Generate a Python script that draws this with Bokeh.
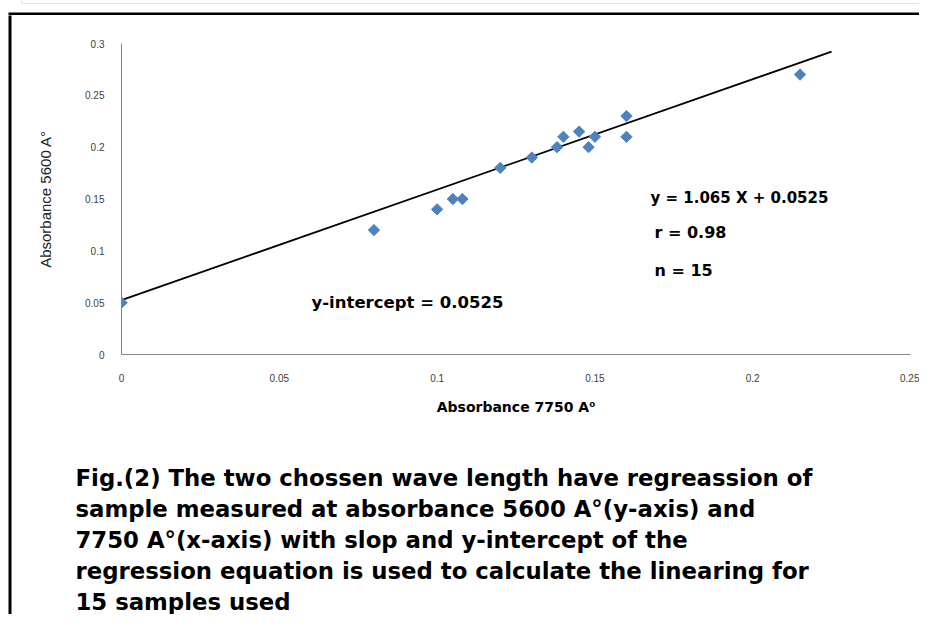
from bokeh.plotting import figure
from bokeh.layouts import column, row
from bokeh.models import Label, BoxAnnotation, Range1d, FixedTicker
from bokeh.embed import file_html
from bokeh.resources import INLINE

# ---- data ----
abs_7750 = [0.0, 0.08, 0.10, 0.105, 0.108, 0.12, 0.13, 0.138, 0.14, 0.145, 0.148, 0.15, 0.16, 0.16, 0.215]
abs_5600 = [0.05, 0.12, 0.14, 0.15, 0.15, 0.18, 0.19, 0.20, 0.21, 0.215, 0.20, 0.21, 0.23, 0.21, 0.27]
slope = 1.065
intercept = 0.0525
fit_x = [0.0, 0.225]
x_ticks = [0, 0.05, 0.1, 0.15, 0.2, 0.25]
x_tick_labels = ["0", "0.05", "0.1", "0.15", "0.2", "0.25"]
y_ticks = [0, 0.05, 0.1, 0.15, 0.2, 0.25, 0.3]
y_tick_labels = ["0", "0.05", "0.1", "0.15", "0.2", "0.25", "0.3"]
equation_text = "y = 1.065 X + 0.0525"
r_text = "r = 0.98"
n_text = "n = 15"
intercept_text = "y-intercept = 0.0525"
x_title = "Absorbance 7750 A\u2070"
y_title = "Absorbance 5600 A\u00b0"
caption_lines = [
    "Fig.(2) The two chossen wave length have regreassion of",
    "sample measured at absorbance 5600 A\u00b0(y-axis) and",
    "7750 A\u00b0(x-axis) with  slop and y-intercept of the",
    "regression equation is used to calculate the linearing for",
    "15 samples used",
]

# ---- page layout (pixels) ----
W, H = 919, 614
TOP_H = 15          # top strip height
LEFT_W = 12         # left strip width
CHART_H = 415       # chart figure height
CAP_H = H - TOP_H - CHART_H
FL, FR, FT, FB = 121, 910, 43, 354  # plot frame in page coords
XMIN, XMAX, YMIN, YMAX = 0.0, 0.25, 0.0, 0.3


def px(page_x):
    return XMIN + (page_x - FL) / (FR - FL) * (XMAX - XMIN)


def py(page_y):
    return YMIN + (FB - page_y) / (FB - FT) * (YMAX - YMIN)


def blank(width, height, x0, x1, y0, y1):
    f = figure(width=width, height=height, output_backend="svg", toolbar_location=None,
               x_range=Range1d(x0, x1), y_range=Range1d(y1, y0),
               x_axis_location=None, y_axis_location=None,
               min_border=0, min_border_left=0, min_border_right=0,
               min_border_top=0, min_border_bottom=0)
    f.outline_line_color = None
    f.xgrid.visible = False
    f.ygrid.visible = False
    f.background_fill_color = "white"
    f.border_fill_color = "white"
    return f


# top strip with page frame lines
top = blank(W, TOP_H, 0, W, 0, TOP_H)
top.add_layout(BoxAnnotation(left=21, right=924, top=-3, bottom=3, fill_color=None,
                             line_color="#a6a6a6", line_width=1))
top.add_layout(BoxAnnotation(left=8, right=W + 5, top=12, bottom=14.5,
                             fill_color="black", fill_alpha=1, line_color=None))
# left strip
left = blank(LEFT_W, H - TOP_H, 0, LEFT_W, TOP_H, H)
left.add_layout(BoxAnnotation(left=8, right=11, top=TOP_H - 2, bottom=H + 5,
                              fill_color="black", fill_alpha=1, line_color=None))

# ---- chart ----
CW = W - LEFT_W
p = figure(width=CW, height=CHART_H, output_backend="svg", toolbar_location=None,
           x_range=Range1d(XMIN, XMAX), y_range=Range1d(YMIN, YMAX),
           min_border_left=FL - LEFT_W, min_border_right=CW - (FR - LEFT_W),
           min_border_top=FT - TOP_H, min_border_bottom=CHART_H - (FB - TOP_H))
p.outline_line_color = None
p.xgrid.visible = False
p.ygrid.visible = False
p.background_fill_color = "white"
p.border_fill_color = "white"

for ax in (p.xaxis[0], p.yaxis[0]):
    ax.axis_line_color = "#868686"
    ax.axis_line_width = 1
    ax.major_tick_line_color = None
    ax.minor_tick_line_color = None
    ax.major_tick_out = 0
    ax.major_tick_in = 0
    ax.minor_tick_out = 0
    ax.minor_tick_in = 0
    ax.major_label_text_font = "Liberation Sans"
    ax.major_label_text_font_size = "10px"
    ax.major_label_text_color = "#404040"

p.xaxis.ticker = FixedTicker(ticks=x_ticks)
p.yaxis.ticker = FixedTicker(ticks=y_ticks)
p.xaxis.major_label_overrides = dict(zip(x_ticks, x_tick_labels))
p.yaxis.major_label_overrides = dict(zip(y_ticks, y_tick_labels))
p.xaxis.major_label_standoff = 19
p.yaxis.major_label_standoff = 17

p.xaxis.axis_label = x_title
p.xaxis.axis_label_text_font = "DejaVu Sans"
p.xaxis.axis_label_text_font_style = "bold"
p.xaxis.axis_label_text_font_size = "14px"
p.xaxis.axis_label_text_color = "black"
p.xaxis.axis_label_standoff = 14

p.yaxis.axis_label = y_title
p.yaxis.axis_label_text_font = "Liberation Sans"
p.yaxis.axis_label_text_font_style = "normal"
p.yaxis.axis_label_text_font_size = "15px"
p.yaxis.axis_label_text_color = "#222222"
p.yaxis.axis_label_standoff = 28

# regression line
fit_y = [intercept + slope * x for x in fit_x]
p.line(fit_x, fit_y, line_color="black", line_width=1.8)

# data points (diamonds)
p.scatter(abs_7750, abs_5600, marker="square", angle=0.785398, size=8,
          fill_color="#4F81BD", line_color="#4F81BD")


def chart_text(txt, page_x, page_y, size):
    p.add_layout(Label(x=px(page_x), y=py(page_y), text=txt,
                       text_font="DejaVu Sans", text_font_size=size,
                       text_font_style="bold", text_color="black",
                       text_baseline="alphabetic", text_align="left"))


chart_text(equation_text, 650, 197, "15px")
chart_text(r_text, 654, 232, "16px")
chart_text(n_text, 654, 270, "16px")
chart_text(intercept_text, 311, 302, "16.5px")

# ---- caption ----
cap = blank(CW, CAP_H, LEFT_W, W, TOP_H + CHART_H, H)
baselines = [477, 508, 539, 570, 601]
for line, b in zip(caption_lines, baselines):
    cap.add_layout(Label(x=75, y=b, text=line, text_font="DejaVu Sans",
                         text_font_size="22.8px", text_font_style="bold",
                         text_color="black", text_baseline="alphabetic",
                         text_align="left"))

layout = column(top, row(left, column(p, row(cap, spacing=0), spacing=0), spacing=0), spacing=0)
open("out.html", "w").write(file_html(layout, INLINE))
